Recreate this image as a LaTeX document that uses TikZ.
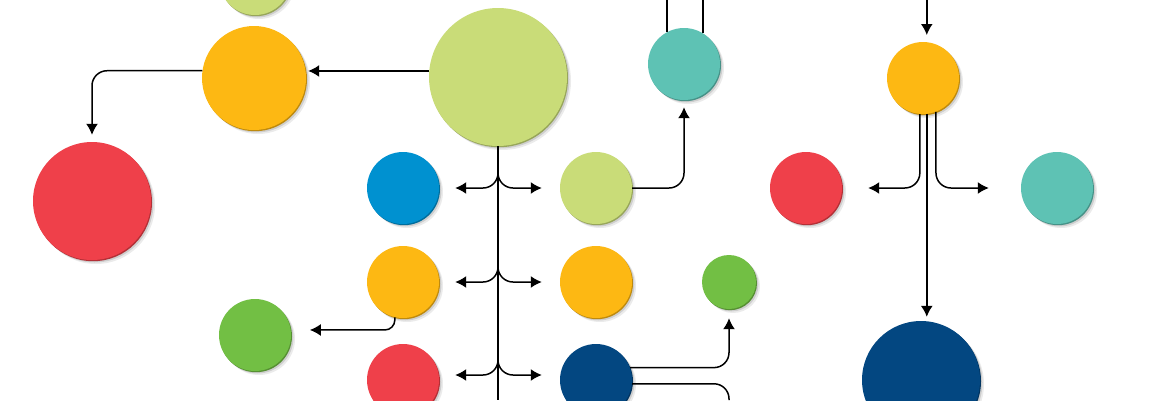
\documentclass[tikz,border=0pt]{standalone}
\usetikzlibrary{shadows, arrows.meta}

\definecolor{discLime}{RGB}{201,220,120}
\definecolor{discOrange}{RGB}{253,184,19}
\definecolor{discRed}{RGB}{239,64,74}
\definecolor{discTeal}{RGB}{94,194,180}
\definecolor{discBlue}{RGB}{0,145,208}
\definecolor{discGreen}{RGB}{114,191,68}
\definecolor{discNavy}{RGB}{3,71,129}

\tikzset{
	disc/.style = {circle, fill = #1, minimum size = 72pt, inner sep = 0pt,
		drop shadow = {shadow xshift = 4pt, shadow yshift = -4pt, fill = black, opacity = 0.08},
		drop shadow = {shadow xshift = 2.5pt, shadow yshift = -2.5pt, fill = black, opacity = 0.12},
		drop shadow = {shadow xshift = 1pt, shadow yshift = -1.2pt, fill = #1!75!black, opacity = 1}},
	link/.style = {line width = 1.5pt, rounded corners = 15pt}
}

\begin{document}
\begin{tikzpicture}[x = 1pt, y = -1pt, > = {Latex[length = 11pt, width = 12pt]}]

	\useasboundingbox (0, 0) rectangle (1170, 400);
	\coordinate (top) at (0, 0);
	\coordinate (bottom) at (0, 400);

	% Discs

	\node [disc = discLime] (gTop) at (255, -21) {};
	\node [disc = discOrange, minimum size = 104pt] (oLeft) at (254, 78) {};
	\node [disc = discRed, minimum size = 118pt] (rBig) at (92, 201) {};
	\node [disc = discLime, minimum size = 138pt] (gHub) at (498, 77) {};
	\node [disc = discTeal] (tTop) at (684, 64) {};
	\node [disc = discBlue] (bMid) at (403, 188) {};
	\node [disc = discLime] (gMid) at (596, 188) {};
	\node [disc = discOrange] (oMidL) at (403, 282) {};
	\node [disc = discOrange] (oMidR) at (596, 282) {};
	\node [disc = discGreen, minimum size = 54pt] (gSmall) at (729, 282) {};
	\node [disc = discRed] (rLow) at (403, 380) {};
	\node [disc = discNavy] (nLow) at (596, 380) {};
	\node [disc = discGreen] (gLeft) at (255, 335) {};
	\node [disc = discOrange] (oRight) at (923, 78) {};
	\node [disc = discRed] (rRight) at (806, 188) {};
	\node [disc = discTeal] (tRight) at (1057, 188) {};
	\node [disc = discNavy, minimum size = 118pt] (nBig) at (921, 380) {};

	% Left part

	\draw [->, link, shorten >= 2pt] (gHub.175) -- (gHub.175 -| oLeft.east);
	\draw [->, link, shorten >= 7pt] (oLeft.172) -| (rBig.north);
	\draw [->, link, rounded corners = 10pt, shorten >= 19pt] (oMidL.-103) |- (gLeft.8);

	% Trunk and branches

	\draw [link] (gHub.south) -- (gHub.south |- bottom);
	\foreach \l/\r/\y in {bMid/gMid/188, oMidL/oMidR/282, rLow/nLow/375}
	{
		\draw [->, link, shorten >= 16pt] (gHub.south |- 0, \y) ++(0, -17) |- (\l.east |- 0, \y);
		\draw [->, link, shorten >= 18pt] (gHub.south |- 0, \y) ++(0, -17) |- (\r.west |- 0, \y);
	}

	% Middle part

	\draw [->, link, shorten >= 7pt] (gMid.east) -| (tTop.south);
	\draw [link] (tTop.118) -- (tTop.118 |- top);
	\draw [link] (tTop.58) -- (tTop.58 |- top);
	\draw [->, link, shorten >= 9pt] (nLow.20) -| (gSmall.south);
	\draw [link] (nLow.-6) -| (gSmall.south |- bottom);

	% Right part

	\draw [->, link, shorten >= 7pt] (oRight.84 |- top) -- (oRight.84);
	\draw [->, link, shorten >= 26pt] (oRight.-95) |- (rRight.east);
	\draw [->, link, shorten >= 32pt] (oRight.-69) |- (tRight.west);
	\draw [->, link, shorten >= 4pt] (oRight.-84) -- (oRight.-84 |- nBig.north);

\end{tikzpicture}
\end{document}
